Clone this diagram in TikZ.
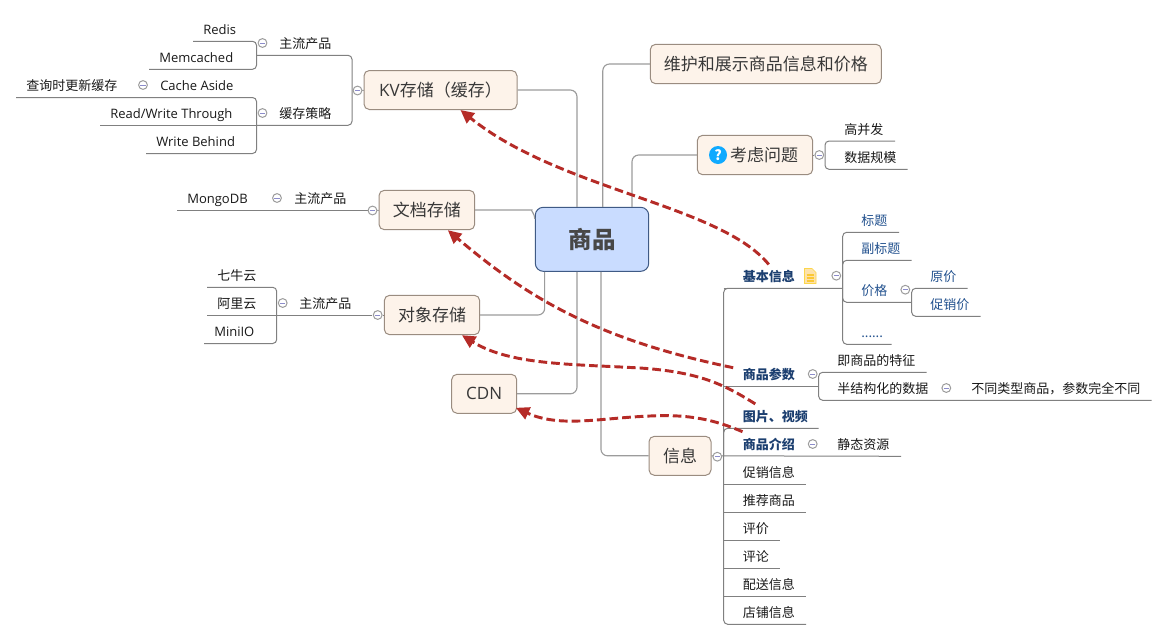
\documentclass[tikz,border=0pt]{standalone}
\usepackage{fontspec}
\setmainfont{Noto Sans CJK SC}
\newfontfamily\latfont{Open Sans}
\newcommand{\lat}[1]{{\latfont #1}}
\usetikzlibrary{arrows.meta}
\definecolor{lnc}{HTML}{808080}
\definecolor{lnb}{HTML}{9C9C9C}
\definecolor{boxf}{HTML}{FDF3EA}
\definecolor{boxd}{HTML}{9A8C80}
\definecolor{mainf}{HTML}{C9DCFF}
\definecolor{maind}{HTML}{3F5A85}
\definecolor{redl}{HTML}{B52B27}
\definecolor{bluet}{HTML}{23528F}
\definecolor{blueb}{HTML}{1C3F70}
\definecolor{qblue}{HTML}{10AAFF}
\tikzset{
  ln/.style={draw=lnc,line width=0.75pt,rounded corners=3pt},
  lnm/.style={draw=lnb,line width=0.85pt,rounded corners=5pt},
  txt/.style={anchor=base west,inner sep=0pt,font=\fontsize{9.75pt}{11pt}\selectfont,text=black!90},
  txtb/.style={txt,text=bluet},
  txtc/.style={txt,text=blueb,font=\fontsize{9.75pt}{11pt}\selectfont\bfseries},
  topicbox/.style={draw=boxd,fill=boxf,line width=0.75pt,rounded corners=4pt,inner sep=0pt,
     font=\fontsize{12.75pt}{15pt}\selectfont,text=black!78},
  mainbox/.style={draw=maind,fill=mainf,line width=0.75pt,rounded corners=6pt,inner sep=0pt,
     font=\fontsize{17.6pt}{20pt}\selectfont\bfseries,text=black!72},
  collapser/.style={circle,draw=lnb,fill=white,line width=0.75pt,minimum size=6.6pt,inner sep=0pt,
     path picture={\draw[draw=black!45!blue!45!white,line width=0.6pt]
       ([xshift=-1.9pt]path picture bounding box.center) -- ([xshift=1.9pt]path picture bounding box.center);}},
  rel/.style={draw=redl,line width=2.2pt,dash pattern=on 6.5pt off 3pt,
     -{Triangle[length=10pt,width=9.5pt,fill=redl]}}
}
% style, name, x left of line, x right of line, y of line, x of text, text
\newcommand{\leafnode}[7][txt]{%
  \coordinate (#2-l) at (#3,#5);
  \coordinate (#2-r) at (#4,#5);
  \node[#1] (#2) at (#6,#5-7) {#7};
}
\newcommand{\tbox}[7][topicbox]{%
  \pgfmathsetmacro\bw{(#5-#3)*0.75}\pgfmathsetmacro\bh{(#6-#4)*0.75}%
  \node[#1,minimum width=\bw pt,minimum height=\bh pt] (#2) at ({(#3+#5)/2},{(#4+#6)/2}) {#7};
}
\begin{document}
\begin{tikzpicture}[x=0.75pt,y=-0.75pt]
\useasboundingbox[fill=white] (0,0) rectangle (1168,640);

% topics
\tbox[mainbox]{main}{535.3}{207.3}{648.7}{271.3}{商品}
\tbox{kv}{364}{70.5}{517}{109.5}{\lat{KV}存储（缓存）}
\tbox{wd}{379}{190.3}{474.7}{229.7}{文档存储}
\tbox{ob}{384.3}{295.3}{479.7}{334.7}{对象存储}
\tbox{cdn}{451.7}{374.3}{516.7}{413.3}{\lat{CDN}}
\tbox{wh}{650.3}{44.3}{881.3}{83.7}{维护和展示商品信息和价格}
\tbox{kl}{697.3}{135.3}{812.7}{174.7}{\hspace*{13.5pt}考虑问题}
\tbox{xx}{649}{436.3}{711}{475.3}{信息}

% leaves, left
\leafnode{redis}{193}{256.5}{41.3}{203}{\lat{Redis}}
\leafnode{mem}{149}{256.5}{69.3}{159}{\lat{Memcached}}
\leafnode{ca}{16}{256.5}{97.5}{160}{\lat{Cache Aside}}
\leafnode{cx0}{16}{150}{97.5}{26}{查询时更新缓存}
\leafnode{rw}{100}{256.5}{125.3}{110}{\lat{Read/Write Through}}
\leafnode{wb}{146}{256.5}{153.5}{156}{\lat{Write Behind}}
\leafnode{zl}{256.5}{352}{55.3}{279}{主流产品}
\leafnode{cl}{256.5}{352}{125.3}{279}{缓存策略}
\leafnode{mg}{177}{278}{210.5}{187}{\lat{MongoDB}}
\leafnode{wz}{278}{372}{210.5}{294}{主流产品}
\leafnode{qn}{207}{276.7}{287.3}{217}{七牛云}
\leafnode{al}{207}{276.7}{315.3}{217}{阿里云}
\leafnode{mn}{204}{276.7}{343.5}{214}{\lat{MiniIO}}
\leafnode{oz}{276.7}{372}{315.3}{299}{主流产品}

% leaves, right
\leafnode{gb}{825}{895}{141}{844}{高并发}
\leafnode{sj}{825}{907.7}{169.3}{844}{数据规模}
\leafnode[txtc]{jb}{723.7}{842.7}{288.3}{742.5}{基本信息}
\leafnode[txtb]{bt}{842.7}{899}{232.3}{861}{标题}
\leafnode[txtb]{fb}{842.7}{911.7}{260.3}{861}{副标题}
\leafnode[txtb]{jg}{842.7}{911.7}{302.3}{861}{价格}
\leafnode[txtb]{yj}{911.7}{967.7}{288.3}{930}{原价}
\leafnode[txtb]{cj}{911.7}{980.7}{316.3}{930}{促销价}
\leafnode[txtb]{dd}{842.7}{891.7}{344.3}{861}{......}
\leafnode[txtc]{sp}{723.7}{818.7}{386.3}{742.5}{商品参数}
\leafnode{tz}{818.7}{926.7}{372.3}{837}{即商品的特征}
\leafnode{bj}{818.7}{965}{400.3}{837}{半结构化的数据}
\leafnode{bt2}{965}{1151.7}{400.3}{971}{不同类型商品，参数完全不同}
\leafnode[txtc]{tp}{723.7}{818.7}{428.3}{742.5}{图片、视频}
\leafnode[txtc]{js}{723.7}{825}{456.3}{742.5}{商品介绍}
\leafnode{jt}{825}{901}{456.3}{837}{静态资源}
\leafnode{cu}{723.7}{806}{484.3}{742.5}{促销信息}
\leafnode{tj}{723.7}{806}{512.3}{742.5}{推荐商品}
\leafnode{pj}{723.7}{780}{540.3}{742.5}{评价}
\leafnode{pl}{723.7}{780}{568.3}{742.5}{评论}
\leafnode{ps}{723.7}{806}{596.3}{742.5}{配送信息}
\leafnode{dp}{723.7}{806}{624.3}{742.5}{店铺信息}

% centre connectors
\coordinate (mKV) at ([xshift=-11.25pt]main.north);
\coordinate (mWH) at ([xshift=8.1pt]main.north);
\coordinate (mKL) at ([xshift=30pt]main.north);
\coordinate (mOB) at ([xshift=-35.5pt]main.south);
\coordinate (mCD) at ([xshift=-11.25pt]main.south);
\coordinate (mXX) at ([xshift=6.7pt]main.south);
\draw[lnm] (kv.east) -| (mKV);
\draw[lnm] (wh.west) -| (mWH);
\draw[lnm] (kl.west) -| (mKL);
\draw[lnm] (wd.east) -- ++(50,0) to[out=0,in=90] ([yshift=-9pt]main.north west);
\draw[lnm] (ob.east) -| (mOB);
\draw[lnm] (cdn.east) -| (mCD);
\draw[lnm] (xx.west) -| (mXX);

% left branches
\draw[ln] (redis-l) -| (mem-r) -- (mem-l);
\draw[ln] (zl-l) -| (cl-r) -- (cl-l);
\draw[ln] (ca-l) -| (wb-r) -- (wb-l);
\draw[ln] (rw-l) -- (rw-r);
\draw[ln] (mg-l) -- (wz-r);
\draw[ln] (qn-l) -| (mn-r) -- (mn-l);
\draw[ln] (al-l) -- (oz-r);

% right branches
\draw[ln] (gb-r) -| (sj-l) -- (sj-r);
\draw[ln] (bt-r) -| (dd-l) -- (dd-r);
\draw[ln] (fb-r) -| (jg-l) -- (jg-r);
\draw[ln] (jb-l) -- (jb-r);
\draw[ln] (yj-r) -| (cj-l) -- (cj-r);
\draw[ln] (jb-r) -| (dp-l) -- (dp-r);
\draw[ln] (sp-l) -- (sp-r);
\draw[ln] (tz-r) -| (bj-l) -- (bt2-r);
\draw[ln] (tp-r) -| (js-l);
\draw[ln] (xx.east) -- (jt-r);
\draw[ln] (cu-l) -- (cu-r);
\draw[ln] (tj-l) -- (tj-r);
\draw[ln] (pj-l) -- (pj-r);
\draw[ln] (pl-l) -- (pl-r);
\draw[ln] (ps-l) -- (ps-r);

% collapse marks
\foreach \nm/\px/\py in {c1/262.5/43,c2/262.5/113,c3/143/85,c4/357.5/90.5,c5/277/198,c6/372.5/210.5,
  c7/282.7/303,c8/377.7/315,c9/819.3/155,c10/836.3/275.7,c11/905.3/289.7,c12/812.7/374,
  c13/946.3/388,c14/812.7/444,c15/717.3/456.7}{
  \node[collapser] (\nm) at (\px,\py) {};
}
\draw[ln] (c4) -- (kv);
\draw[ln] (c6) -- (wd);
\draw[ln] (c8) -- (ob);
\draw[ln] (c9) -- (kl);

% icons
\node[circle,fill=qblue,inner sep=0pt,minimum size=13.5pt,text=white,
  font=\fontsize{10.5pt}{12pt}\selectfont\bfseries] (qm) at (718,155) {?};
\path[draw=yellow!60!orange!70!white,fill=yellow!30!orange!30!white,line width=0.5pt]
  (804.5,268.5) -- (812,268.5) -- (816,272.5) -- (816,283.5) -- (804.5,283.5) -- cycle;
\draw[draw=yellow!50!orange!80!white,line width=0.8pt]
  (806.5,275) -- (813.5,275) (806.5,278) -- (813.5,278) (806.5,281) -- (813.5,281);

% relationships
\draw[rel] ([yshift=4pt]jb.north) .. controls (720,205) and (560,190) .. ([xshift=15pt]kv.south);
\draw[rel] ([xshift=-7pt]sp.north west) .. controls (600,340) and (530,300) .. ([xshift=15.75pt]wd.south);
\draw[rel] ([xshift=-15pt,yshift=4.5pt]tp.north) .. controls (725,385) and (700,372) .. (640,368)
   .. controls (570,364) and (510,365) .. ([xshift=22.5pt]ob.south);
\draw[rel] ([yshift=4.5pt]js.north west) .. controls (715,420) and (690,414) .. (650,416)
   .. controls (600,418) and (560,428) .. ([xshift=-1pt,yshift=4.5pt]cdn.south east);
\end{tikzpicture}
\end{document}
